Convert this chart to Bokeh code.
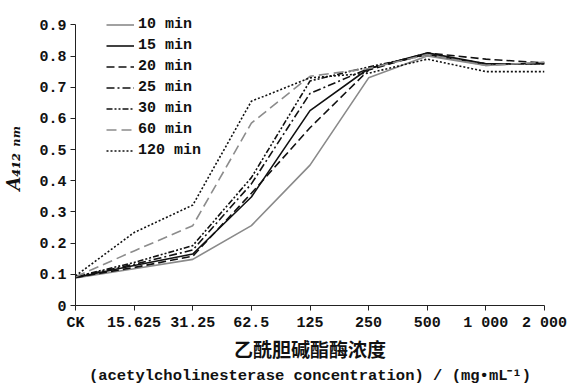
from bokeh.plotting import figure
from bokeh.models import Range1d, FixedTicker, Legend, LegendItem, Title
from bokeh.embed import file_html
from bokeh.resources import INLINE

# ---- data ----
categories = ["CK", "15.625", "31.25", "62.5", "125", "250", "500", "1 000", "2 000"]
t10 = [0.088, 0.118, 0.148, 0.256, 0.45, 0.73, 0.80, 0.77, 0.78]
t15 = [0.090, 0.128, 0.165, 0.348, 0.625, 0.76, 0.81, 0.775, 0.775]
t20 = [0.090, 0.122, 0.158, 0.36, 0.57, 0.755, 0.81, 0.79, 0.778]
t25 = [0.092, 0.132, 0.178, 0.39, 0.68, 0.76, 0.805, 0.775, 0.775]
t30 = [0.092, 0.138, 0.192, 0.41, 0.72, 0.765, 0.805, 0.775, 0.775]
t60 = [0.092, 0.175, 0.256, 0.585, 0.735, 0.76, 0.805, 0.77, 0.78]
t120 = [0.095, 0.234, 0.322, 0.655, 0.73, 0.745, 0.79, 0.75, 0.75]
series_names = ["10 min", "15 min", "20 min", "25 min", "30 min", "60 min", "120 min"]
series_values = [t10, t15, t20, t25, t30, t60, t120]
y_ticks = [0, 0.1, 0.2, 0.3, 0.4, 0.5, 0.6, 0.7, 0.8, 0.9]

styles = [
    dict(color="#8a8a8a", dash="solid"),
    dict(color="#111111", dash="solid"),
    dict(color="#111111", dash="8 4"),
    dict(color="#111111", dash="8 3 2 3"),
    dict(color="#111111", dash="6 2 2 2 2 2"),
    dict(color="#8c8c8c", dash="10 5"),
    dict(color="#111111", dash="2 2"),
]

MONO = "Liberation Mono"

p = figure(width=567, height=384, output_backend="svg", toolbar_location=None,
           x_range=Range1d(0, len(categories) - 1), y_range=Range1d(0, 0.946),
           min_border_left=71, min_border_right=23, min_border_top=10,
           min_border_bottom=79)
p.outline_line_color = None
p.xgrid.visible = False
p.ygrid.visible = False
p.background_fill_color = "white"
p.border_fill_color = "white"

xs = list(range(len(categories)))
items = []
for name, vals, st in zip(series_names, series_values, styles):
    r = p.line(xs, vals, line_color=st["color"], line_dash=st["dash"], line_width=1.6)
    items.append(LegendItem(label=name, renderers=[r]))

legend = Legend(items=items, location=(31, 144), orientation="vertical",
                padding=0, margin=0, spacing=0, glyph_width=28, glyph_height=21,
                label_height=21, label_standoff=4,
                label_text_font=MONO, label_text_font_style="bold",
                label_text_font_size="15px", label_text_color="#111111",
                border_line_color=None, background_fill_alpha=0)
p.add_layout(legend, "center")

# axes
for ax in (p.xaxis[0], p.yaxis[0]):
    ax.axis_line_color = "#222222"
    ax.major_tick_line_color = "#222222"
    ax.minor_tick_line_color = None
    ax.major_tick_in = 0
    ax.major_tick_out = 5
    ax.major_label_text_font = MONO
    ax.major_label_text_font_style = "bold"
    ax.major_label_text_font_size = "15px"
    ax.major_label_text_color = "#111111"

p.xaxis[0].ticker = FixedTicker(ticks=xs)
p.xaxis[0].major_label_overrides = {i: c for i, c in enumerate(categories)}
p.xaxis[0].major_label_standoff = 4
p.xaxis[0].axis_label = "乙酰胆碱酯酶浓度"
p.xaxis[0].axis_label_text_font = "Noto Sans CJK SC"
p.xaxis[0].axis_label_text_font_style = "bold"
p.xaxis[0].axis_label_text_font_size = "19px"
p.xaxis[0].axis_label_text_color = "#111111"
p.xaxis[0].axis_label_standoff = 0

p.yaxis[0].ticker = FixedTicker(ticks=y_ticks)
p.yaxis[0].bounds = (0, 0.9)
p.yaxis[0].major_label_overrides = {t: ("0" if t == 0 else f"{t:.1f}") for t in y_ticks}
p.yaxis[0].major_label_standoff = 4
p.yaxis[0].axis_label = "A\u2084\u2081\u2082 \u2099\u2098"
p.yaxis[0].axis_label_text_font = "DejaVu Serif"
p.yaxis[0].axis_label_text_font_style = "bold italic"
p.yaxis[0].axis_label_text_font_size = "18px"
p.yaxis[0].axis_label_text_color = "#111111"
p.yaxis[0].axis_label_standoff = 12

p.add_layout(Title(text="(acetylcholinesterase concentration) / (mg\u2022mL\u207b\u00b9)",
                   align="center", text_font=MONO, text_font_style="bold",
                   text_font_size="15.5px", text_color="#111111", standoff=0, offset=0),
             "below")

open("out.html", "w").write(file_html(p, INLINE))
